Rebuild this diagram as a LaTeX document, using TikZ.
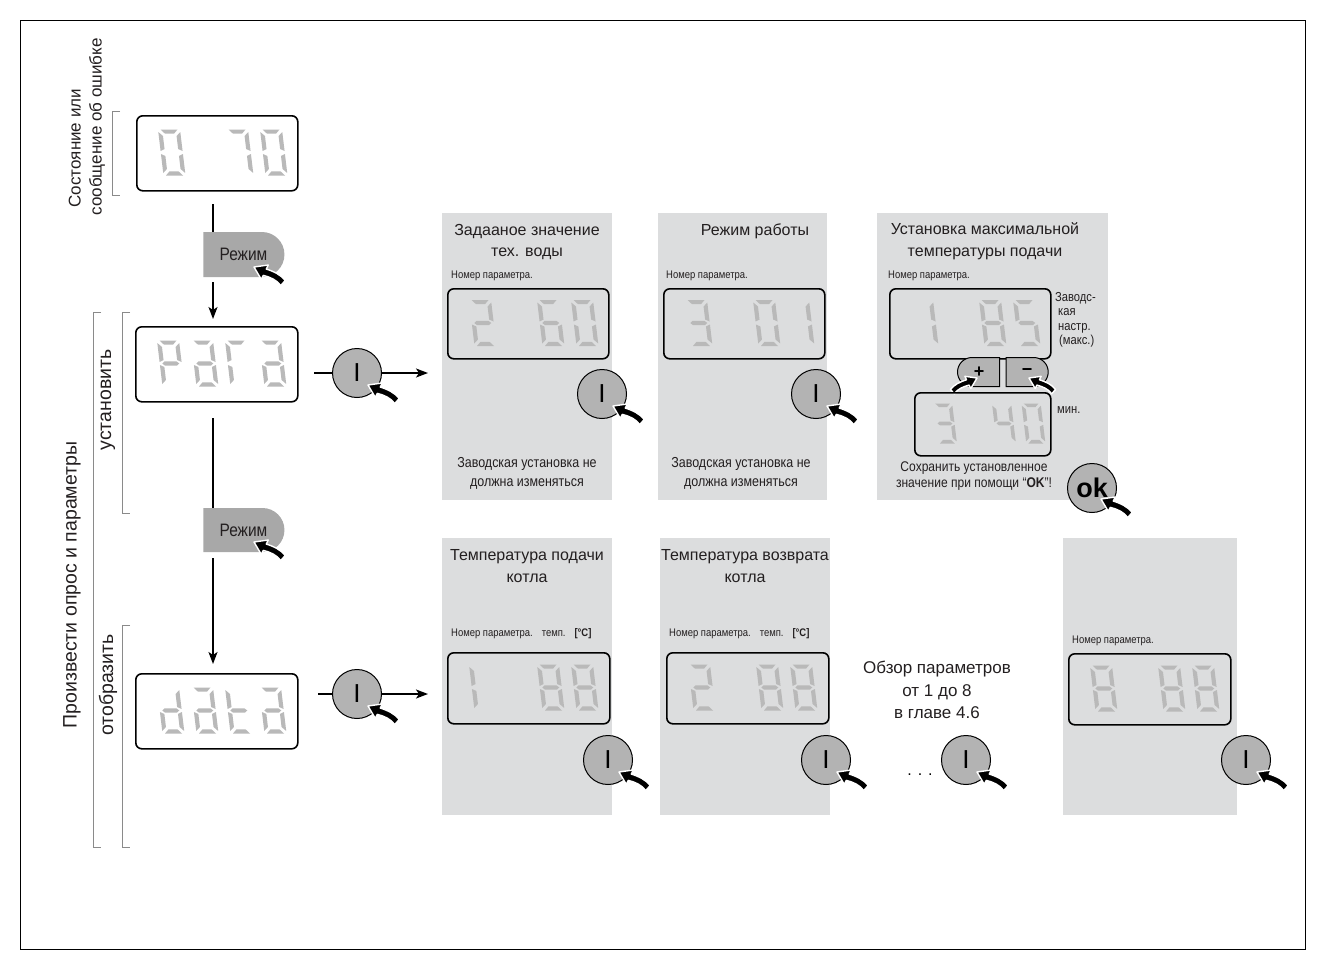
\documentclass[tikz,border=0pt]{standalone}
\usepackage{fontspec}
\setmainfont{Liberation Sans}
\newfontfamily\cnd[FakeStretch=0.86]{Liberation Sans}
\usetikzlibrary{arrows.meta,calc,shapes.misc}
\definecolor{panelc}{HTML}{DCDDDE}
\definecolor{segc}{HTML}{B9B9B9}
\definecolor{btnc}{HTML}{B3B3B3}
\definecolor{modec}{HTML}{A8A8A8}
\definecolor{brkc}{HTML}{8A8A8A}
\definecolor{txtc}{HTML}{231F20}
\def\SGa{\fill[segc] (2.5,0)--(19.5,0)--(15.5,4.2)--(6.5,4.2)--cycle;}
\def\SGb{\fill[segc] (22,2.5)--(17.8,6.5)--(17.8,19.5)--(22,21.5)--cycle;}
\def\SGc{\fill[segc] (22,24.5)--(17.8,26.5)--(17.8,39.5)--(22,43.5)--cycle;}
\def\SGd{\fill[segc] (2.5,46)--(19.5,46)--(15.5,41.8)--(6.5,41.8)--cycle;}
\def\SGe{\fill[segc] (0,24.5)--(4.2,26.5)--(4.2,39.5)--(0,43.5)--cycle;}
\def\SGf{\fill[segc] (0,2.5)--(4.2,6.5)--(4.2,19.5)--(0,21.5)--cycle;}
\def\SGg{\fill[segc] (2.5,23)--(5,20.9)--(17,20.9)--(19.5,23)--(17,25.1)--(5,25.1)--cycle;}
\newcommand\dig[4][1]{\begin{scope}[shift={($(#2)+(#3)$)},scale=#1,xslant=-0.12]\foreach \s in {#4}{\csname SG\s\endcsname}\end{scope}}
\tikzset{
 lcd/.style={draw=black, line width=1.6pt, rounded corners=6pt, minimum width=161pt, minimum height=70pt, anchor=north west, inner sep=0pt},
 panel/.style={fill=panelc, anchor=north west, inner sep=0pt, draw=none},
 ibtn/.style={circle, fill=btnc, draw=black, line width=1pt, minimum size=49pt, inner sep=0pt, font=\fontsize{26}{26}\selectfont},
 modebtn/.style={rounded rectangle, rounded rectangle west arc=none, fill=modec, minimum width=81pt, minimum height=45pt, inner sep=0pt, font=\cnd\fontsize{18}{18}\selectfont, text=txtc},
 pmbtn/.style={rounded rectangle, fill=btnc, draw=black, line width=1pt, minimum width=42pt, minimum height=29pt, inner sep=0pt, font=\bfseries\fontsize{18}{18}\selectfont},
 conn/.style={line width=1.8pt},
 arr/.style={line width=1.8pt, -{Stealth[length=12pt,width=9pt,inset=3pt]}},
 brk/.style={draw=brkc, line width=1pt},
 title/.style={align=center, font=\fontsize{16}{21.5}\selectfont, text=txtc, inner sep=0pt},
 note/.style={align=center, font=\cnd\fontsize{14.5}{19}\selectfont, text=txtc, inner sep=0pt},
 plabel/.style={anchor=west, font=\cnd\fontsize{11}{12}\selectfont, text=txtc, inner sep=0pt},
 lbl/.style={rotate=90, align=center, font=\fontsize{17}{21}\selectfont, text=txtc, inner sep=0pt},
 pointer/.pic={\filldraw[fill=black, draw=white, line width=1.4pt, line join=round] (0,0) -- (14.3,-2) -- (12.3,2.05) .. controls (20,4.5) and (27,8) .. (31.3,13.4) -- (26.7,18.6) .. controls (23,13) and (16,10) .. (9.3,8.35) -- (7.3,12.4) -- cycle;}
}
\begin{document}
\begin{tikzpicture}[x=1pt,y=-1pt]
\useasboundingbox (0,0) rectangle (1325,969);
\draw[line width=1pt] (20,20) rectangle (1305,949);
% left column
\node[lbl, align=left] (t0) at (87,127) {\hspace{8pt}Состояние или\\сообщение об ошибке};
\node[lbl, font=\fontsize{19.5}{21}\selectfont] (t1) at (72,585) {Произвести опрос и параметры};
\node[lbl, font=\fontsize{19.5}{21}\selectfont] (t2) at (108,400) {установить};
\node[lbl, font=\fontsize{19.5}{21}\selectfont] (t3) at (108,685) {отобразить};
\draw[brk] (120,111) -- (112,111) -- (112,195) -- (120,195);
\draw[brk] (101,312) -- (93,312) -- (93,847) -- (101,847);
\draw[brk] (130,312) -- (122,312) -- (122,513) -- (130,513);
\draw[brk] (130,625) -- (122,625) -- (122,847) -- (130,847);
\node[lcd, minimum height=75pt] (d0) at (136,115) {};
\dig{d0.north west}{22,14.5}{a,b,c,d,e,f}
\dig{d0.north west}{90,14.5}{a,b,c}
\dig{d0.north west}{124,14.5}{a,b,c,d,e,f}
\coordinate (v0) at (213,204);
\node[modebtn] (m1) at (243.5,254.5) {Режим\hspace{15pt}};
\draw[conn] (v0) -- (v0 |- m1.north);
\pic at (254,267) {pointer};
\node[lcd, minimum width=162pt, minimum height=75pt] (dP) at (135,326) {};
\dig{dP.north west}{22,14.5}{a,b,e,f,g}
\dig{dP.north west}{56,14.5}{a,b,c,d,e,g}
\dig{dP.north west}{90,14.5}{a,e,f}
\dig{dP.north west}{124,14.5}{a,b,c,d,e,g}
\draw[arr] ($(m1.south -| v0)+(0,5)$) -- ($(dP.north -| v0)+(0,-7)$);
\coordinate (v1) at (213,418);
\node[modebtn, minimum height=44pt] (m2) at (243.5,530) {Режим\hspace{15pt}};
\draw[conn] (v1) -- (v1 |- m2.north);
\pic at (254,542) {pointer};
\node[lcd, minimum width=162pt, minimum height=75pt] (dD) at (135,673) {};
\dig{dD.north west}{22,14.5}{b,c,d,e,g}
\dig{dD.north west}{56,14.5}{a,b,c,d,e,g}
\dig{dD.north west}{90,14.5}{d,e,f,g}
\dig{dD.north west}{124,14.5}{a,b,c,d,e,g}
\draw[arr] ($(m2.south -| v1)+(0,6)$) -- ($(dD.north -| v1)+(0,-9)$);
% I buttons
\node[ibtn] (i1) at (357,373) {I};
\coordinate (i1in) at (314,373); \coordinate (i1out) at (428,373);
\draw[conn] (i1in) -- (i1.west); \draw[arr] (i1.east) -- (i1out);
\pic at ($(i1.center)+(11,12)$) {pointer};
\node[ibtn] (i2) at (357,694) {I};
\coordinate (i2in) at (318,694); \coordinate (i2out) at (428,694);
\draw[conn] (i2in) -- (i2.west); \draw[arr] (i2.east) -- (i2out);
\pic at ($(i2.center)+(11,12)$) {pointer};
% panel 1
\node[panel, minimum width=170pt, minimum height=287pt] (p1) at (442,213) {};
\node[title] (p1t) at (527,242) {Задааное значение\\тех. воды};
\node[plabel] (p1l) at (451,276) {Номер параметра.};
\node[lcd] (p1d) at (447,288) {};
\dig{p1d.north west}{22,12}{a,b,g,e,d}
\dig{p1d.north west}{90,12}{a,f,g,e,c,d}
\dig{p1d.north west}{124,12}{a,b,c,d,e,f}
\node[ibtn] (p1i) at (602,394) {I};
\pic at ($(p1i.center)+(11,12)$) {pointer};
\node[note] (p1n) at (527,473) {Заводская установка не\\должна изменяться};
% panel 2
\node[panel, minimum width=169pt, minimum height=287pt] (p2) at (658,213) {};
\node[title] (p2t) at (755,231) {Режим работы};
\node[plabel] (p2l) at (666,276) {Номер параметра.};
\node[lcd] (p2d) at (663,288) {};
\dig{p2d.north west}{22,12}{a,b,g,c,d}
\dig{p2d.north west}{90,12}{a,b,c,d,e,f}
\dig{p2d.north west}{124,12}{b,c}
\node[ibtn] (p2i) at (816,394) {I};
\pic at ($(p2i.center)+(11,12)$) {pointer};
\node[note] (p2n) at (741,473) {Заводская установка не\\должна изменяться};
% panel 3
\node[panel, minimum width=231pt, minimum height=287pt] (p3) at (877,213) {};
\node[title] (p3t) at (985,241) {Установка максимальной\\температуры подачи};
\node[plabel] (p3l) at (888,276) {Номер параметра.};
\node[lcd] (p3d) at (889,288) {};
\dig{p3d.north west}{22,12}{b,c}
\dig{p3d.north west}{90,12}{a,b,c,d,e,f,g}
\dig{p3d.north west}{124,12}{a,f,g,c,d}
\node[anchor=north west, align=left, font=\cnd\fontsize{13}{14.5}\selectfont, text=txtc, inner sep=0pt] (p3s) at (1055,292) {Заводс-\\\hspace{3pt}кая\\\hspace{3pt}настр.\\\hspace{4pt}(макс.)};
\node[pmbtn, rounded rectangle east arc=none] (pl) at (979,372) {+};
\node[pmbtn, rounded rectangle west arc=none] (mi) at (1027,372) {−};
\pic[scale=0.85, xscale=-1] at (977,378) {pointer};
\pic[scale=0.85] at (1029,378) {pointer};
\node[lcd, minimum width=136pt, minimum height=63pt] (p3e) at (914,392) {};
\dig[0.87]{p3e.north west}{19,11.5}{a,b,g,c,d}
\dig[0.87]{p3e.north west}{78,11.5}{f,g,b,c}
\dig[0.87]{p3e.north west}{107.5,11.5}{a,b,c,d,e,f}
\node[anchor=west, font=\cnd\fontsize{13}{14}\selectfont, text=txtc, inner sep=0pt] (p3m) at (1057,410) {мин.};
\node[note, font=\cnd\fontsize{14}{16}\selectfont] (p3n) at (974,476) {Сохранить установленное\\значение при помощи “\textbf{OK}”!};
\node[ibtn, font=\bfseries\fontsize{27}{27}\selectfont] (ok) at (1092,488) {ok};
\pic at ($(ok.center)+(9,11)$) {pointer};
% panel 4
\node[panel, minimum width=170pt, minimum height=277pt] (p4) at (442,538) {};
\node[title] (p4t) at (527,566) {Температура подачи\\котла};
\node[plabel] (p4l) at (451,634) {Номер параметра.\hspace{9pt}темп.\hspace{9pt}\textbf{[°C]}};
\node[lcd, minimum width=162pt, minimum height=71pt] (p4d) at (447,652) {};
\dig{p4d.north west}{22,12.5}{e,f}
\dig{p4d.north west}{90,12.5}{a,b,c,d,e,f,g}
\dig{p4d.north west}{124,12.5}{a,b,c,d,e,f,g}
\node[ibtn] (p4i) at (608,760) {I};
\pic at ($(p4i.center)+(11,12)$) {pointer};
% panel 5
\node[panel, minimum width=170pt, minimum height=277pt] (p5) at (660,538) {};
\node[title] (p5t) at (745,566) {Температура возврата\\котла};
\node[plabel] (p5l) at (669,634) {Номер параметра.\hspace{9pt}темп.\hspace{9pt}\textbf{[°C]}};
\node[lcd, minimum width=162pt, minimum height=71pt] (p5d) at (666,652) {};
\dig{p5d.north west}{22,12.5}{a,b,g,e,d}
\dig{p5d.north west}{90,12.5}{a,b,c,d,e,f,g}
\dig{p5d.north west}{124,12.5}{a,b,c,d,e,f,g}
\node[ibtn] (p5i) at (826,760) {I};
\pic at ($(p5i.center)+(11,12)$) {pointer};
% overview
\node[title, font=\fontsize{17}{22.5}\selectfont] (ov) at (937,690) {Обзор параметров\\от 1 до 8\\в главе 4.6};
\node[ibtn] (i3) at (966,760) {I};
\pic at ($(i3.center)+(11,12)$) {pointer};
\node[font=\fontsize{16}{16}\selectfont, inner sep=0pt] (dots) at (920,775) {.\hspace{6pt}.\hspace{6pt}.};
% panel 6
\node[panel, minimum width=174pt, minimum height=277pt] (p6) at (1063,538) {};
\node[plabel] (p6l) at (1072,641) {Номер параметра.};
\node[lcd, minimum width=162pt, minimum height=71pt] (p6d) at (1068,653) {};
\dig{p6d.north west}{22,12.5}{a,b,c,d,e,f,g}
\dig{p6d.north west}{90,12.5}{a,b,c,d,e,f,g}
\dig{p6d.north west}{124,12.5}{a,b,c,d,e,f,g}
\node[ibtn] (p6i) at (1246,760) {I};
\pic at ($(p6i.center)+(11,12)$) {pointer};
\end{tikzpicture}
\end{document}
